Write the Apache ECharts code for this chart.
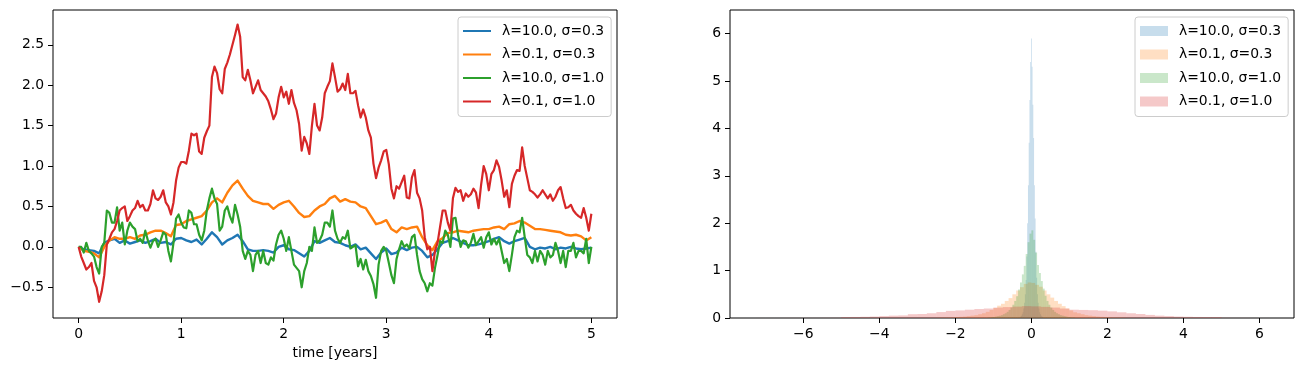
<!DOCTYPE html>
<html>
<head>
<meta charset="utf-8">
<script src="https://cdn.jsdelivr.net/npm/echarts@6/dist/echarts.min.js"></script>
<style>
html,body{margin:0;padding:0;background:#fff;}
#chart{width:1303px;height:371px;}
</style>
</head>
<body>
<div id="chart"></div>
<script>
// ---------- DATA ----------
const seriesNames = ['λ=10.0, σ=0.3', 'λ=0.1, σ=0.3', 'λ=10.0, σ=1.0', 'λ=0.1, σ=1.0'];

// time grid (years) for the two smooth paths
const timesCoarse = [0,0.05,0.1,0.15,0.2,0.25,0.3,0.35,0.4,0.45,0.5,0.55,0.6,0.65,0.7,0.75,0.8,0.85,0.9,0.95,
1,1.05,1.1,1.15,1.2,1.25,1.3,1.35,1.4,1.45,1.5,1.55,1.6,1.65,1.7,1.75,1.8,1.85,1.9,1.95,
2,2.05,2.1,2.15,2.2,2.25,2.3,2.35,2.4,2.45,2.5,2.55,2.6,2.65,2.7,2.75,2.8,2.85,2.9,2.95,
3,3.05,3.1,3.15,3.2,3.25,3.3,3.35,3.4,3.45,3.5,3.55,3.6,3.65,3.7,3.75,3.8,3.85,3.9,3.95,
4,4.05,4.1,4.15,4.2,4.25,4.3,4.35,4.4,4.45,4.5,4.55,4.6,4.65,4.7,4.75,4.8,4.85,4.9,4.95,5];

// time grid (years) for the two noisy paths
const timesFine = [0,0.025,0.05,0.075,0.1,0.125,0.15,0.175,0.2,0.225,
0.25,0.275,0.3,0.325,0.35,0.375,0.4,0.425,0.45,0.475,
0.5,0.525,0.55,0.575,0.6,0.625,0.65,0.675,0.7,0.725,
0.75,0.775,0.8,0.825,0.85,0.875,0.9,0.925,0.95,0.975,
1,1.025,1.05,1.075,1.1,1.125,1.15,1.175,1.2,1.225,
1.25,1.275,1.3,1.325,1.35,1.375,1.4,1.425,1.45,1.475,
1.5,1.525,1.55,1.575,1.6,1.625,1.65,1.675,1.7,1.725,
1.75,1.775,1.8,1.825,1.85,1.875,1.9,1.925,1.95,1.975,
2,2.025,2.05,2.075,2.1,2.125,2.15,2.175,2.2,2.225,
2.25,2.275,2.3,2.325,2.35,2.375,2.4,2.425,2.45,2.475,
2.5,2.525,2.55,2.575,2.6,2.625,2.65,2.675,2.7,2.725,
2.75,2.775,2.8,2.825,2.85,2.875,2.9,2.925,2.95,2.975,
3,3.025,3.05,3.075,3.1,3.125,3.15,3.175,3.2,3.225,
3.25,3.275,3.3,3.325,3.35,3.375,3.4,3.425,3.45,3.475,
3.5,3.525,3.55,3.575,3.6,3.625,3.65,3.675,3.7,3.725,
3.75,3.775,3.8,3.825,3.85,3.875,3.9,3.925,3.95,3.975,
4,4.025,4.05,4.075,4.1,4.125,4.15,4.175,4.2,4.225,
4.25,4.275,4.3,4.325,4.35,4.375,4.4,4.425,4.45,4.475,
4.5,4.525,4.55,4.575,4.6,4.625,4.65,4.675,4.7,4.725,
4.75,4.775,4.8,4.825,4.85,4.875,4.9,4.925,4.95,4.975,5];

const pathBlue = [0,-0.03,-0.04,-0.05,-0.08,0.05,0.08,0.1,0.05,0.08,0.04,0.06,0.08,0.05,0.07,0.1,0.05,0.06,0.03,0.1,
0.11,0.08,0.06,0.09,0.03,0.1,0.18,0.12,0.03,0.08,0.11,0.15,0.07,-0.03,-0.05,-0.05,-0.04,-0.05,-0.07,0,
0.02,-0.03,-0.04,-0.08,-0.12,-0.05,0.07,0.05,0.08,0.11,0.06,0.05,0.02,0,0.03,-0.03,-0.01,-0.08,-0.15,-0.07,
-0.02,-0.09,-0.07,-0.01,-0.04,-0.01,0,-0.05,-0.13,-0.1,-0.03,0.05,0.07,0.11,0.08,0.05,0.02,0.02,0.03,0.05,
0.07,0.1,0.12,0.07,0.04,0.07,0.09,0.11,0,-0.03,-0.01,-0.02,0,-0.03,-0.01,-0.02,0,-0.02,-0.03,-0.02,-0.01];

const pathOrange = [0,-0.05,-0.06,-0.08,-0.13,0,0.08,0.12,0.1,0.1,0.12,0.1,0.14,0.15,0.18,0.2,0.2,0.17,0.13,0.27,
0.28,0.32,0.34,0.36,0.38,0.45,0.55,0.6,0.55,0.67,0.76,0.82,0.72,0.63,0.57,0.55,0.53,0.53,0.47,0.52,
0.55,0.57,0.5,0.42,0.37,0.38,0.45,0.5,0.53,0.6,0.63,0.56,0.59,0.56,0.55,0.5,0.48,0.38,0.28,0.3,
0.33,0.22,0.18,0.24,0.22,0.24,0.25,0.12,0.02,-0.04,0.07,0.11,0.17,0.18,0.2,0.19,0.18,0.2,0.21,0.22,
0.22,0.24,0.25,0.22,0.28,0.29,0.32,0.3,0.26,0.22,0.22,0.21,0.2,0.19,0.18,0.15,0.14,0.15,0.13,0.08,0.12];

const pathGreen = [0,0,-0.07,0.05,-0.05,-0.08,-0.12,-0.25,-0.33,0,
0.05,0.45,0.42,0.3,0.3,0.49,0.2,0.3,0.03,0.2,
0.3,0.25,0.22,0.07,0.1,0.05,0.2,0.08,-0.01,0.07,
0.1,0,0.08,0.18,0.15,-0.05,-0.18,0.05,0.35,0.4,
0.3,0.24,0.23,0.45,0.42,0.28,0.28,0.15,0.08,0.2,
0.45,0.6,0.72,0.6,0.53,0.2,0.25,0.45,0.5,0.38,
0.3,0.52,0.4,0.25,-0.05,-0.15,-0.05,-0.1,-0.3,-0.1,
-0.05,-0.2,-0.05,-0.2,-0.22,-0.13,-0.17,0.03,0.15,0.2,
0.1,-0.05,0.12,-0.05,-0.22,-0.26,-0.3,-0.5,-0.3,-0.2,
0,-0.05,0.24,0.05,0.08,0.15,0.3,0.3,0.25,0.45,
0.2,0.1,0.05,0.12,0.1,0.2,-0.02,0,0.02,-0.24,
-0.15,-0.28,-0.16,-0.3,-0.36,-0.46,-0.63,-0.22,-0.05,0,
-0.05,-0.2,-0.35,-0.45,-0.15,-0.03,0.07,0,0.03,-0.02,
0.12,0.15,-0.1,-0.3,-0.4,-0.45,-0.55,-0.45,-0.48,-0.26,
-0.1,0.07,0.05,0.2,0.15,0,0.35,0.36,0.15,0,
0.08,0.07,-0.01,0.05,0.16,0.02,0.07,0.12,-0.01,0.12,
0.18,0.03,0.1,0.03,0.1,-0.05,-0.2,-0.15,-0.3,-0.1,
0.12,0.2,0.18,0.36,0.12,-0.1,-0.13,-0.2,-0.05,-0.18,
-0.05,-0.1,-0.22,-0.05,-0.13,-0.1,0.05,-0.05,-0.2,-0.05,
-0.25,-0.05,-0.05,0.05,-0.13,-0.05,-0.05,-0.08,0.1,-0.2,0];

const pathRed = [0,-0.12,-0.2,-0.28,-0.25,-0.2,-0.42,-0.5,-0.68,-0.55,
-0.35,0.03,0.1,0.18,0.22,0.32,0.45,0.48,0.5,0.32,
0.38,0.45,0.48,0.57,0.49,0.52,0.45,0.45,0.53,0.7,
0.6,0.58,0.62,0.7,0.55,0.5,0.4,0.55,0.82,0.98,
1.05,1.05,1.03,1.19,1.4,1.38,1.4,1.18,1.15,1.35,
1.43,1.5,2.1,2.23,2.15,1.95,1.9,2.2,2.28,2.38,
2.5,2.62,2.75,2.6,2.1,2.06,2.19,2.06,1.9,1.98,
2.06,1.94,1.9,1.86,1.8,1.7,1.58,1.65,1.85,1.98,
1.85,1.92,1.77,1.94,1.78,1.69,1.52,1.19,1.36,1.28,
1.15,1.5,1.77,1.5,1.44,1.6,1.9,1.98,2.05,2.27,
2.1,1.92,1.95,2.02,1.94,2.14,1.9,1.9,1.93,1.75,
1.6,1.7,1.6,1.44,1.35,1.03,0.85,0.98,1.07,1.18,
1.2,1.02,0.72,0.6,0.75,0.72,0.8,0.88,0.61,0.6,
0.86,0.95,0.67,0.6,0.45,0.12,-0.03,0,-0.3,-0.05,
0.05,0.25,0.45,0.45,0.3,0.2,0.6,0.73,0.68,0.7,
0.57,0.66,0.62,0.65,0.72,0.67,0.48,0.77,1.0,0.9,
0.7,0.9,0.95,1.07,0.99,0.82,0.62,0.7,0.49,0.78,
0.88,0.95,0.94,1.23,1.0,0.85,0.7,0.68,0.65,0.61,
0.65,0.7,0.65,0.6,0.65,0.57,0.62,0.7,0.74,0.6,
0.48,0.49,0.52,0.45,0.41,0.38,0.36,0.48,0.36,0.2,0.41];

// histograms: first bin edge, bin width, densities
const histBlueStart = -0.31, histBlueWidth = 0.02;
const histBlue = [0.02,0.03,0.05,0.08,0.12,0.2,0.32,0.5,0.8,1.3,2.0,2.8,3.7,4.6,5.4,5.9,5.3,4.5,3.8,2.8,2.1,1.4,0.85,0.5,0.32,0.2,0.12,0.08,0.05,0.03,0.02];

const histOrangeStart = -2.5, histOrangeWidth = 0.1;
const histOrange = [0.005,0.008,0.01,0.012,0.015,0.02,0.025,0.03,0.04,0.05,0.06,0.08,0.1,0.13,0.17,0.21,0.26,0.3,0.36,0.42,0.5,0.58,0.65,0.72,0.75,
0.74,0.7,0.66,0.58,0.5,0.43,0.36,0.3,0.25,0.2,0.16,0.12,0.1,0.08,0.06,0.05,0.04,0.03,0.025,0.02,0.015,0.012,0.01,0.008,0.005];

const histGreenStart = -1.2, histGreenWidth = 0.05;
const histGreen = [0,0.01,0.01,0.02,0.02,0.03,0.04,0.05,0.06,0.08,0.1,0.13,0.17,0.22,0.28,0.36,0.46,0.6,0.75,0.92,1.1,1.35,1.6,1.78,
1.85,1.65,1.38,1.12,0.95,0.78,0.62,0.47,0.36,0.28,0.22,0.17,0.13,0.1,0.08,0.06,0.05,0.04,0.03,0.02,0.02,0.01,0.01,0];

const histRedStart = -7.25, histRedWidth = 0.25;
const histRed = [0.001,0.001,0.001,0.002,0.002,0.003,0.003,0.004,0.005,0.02,0.022,0.025,0.03,0.04,0.05,0.055,0.08,0.085,0.1,0.125,0.15,0.16,0.175,0.19,0.2,0.22,0.23,0.24,0.25,
0.245,0.235,0.22,0.2,0.175,0.17,0.165,0.155,0.14,0.12,0.1,0.085,0.065,0.05,0.04,0.03,0.025,0.022,0.02,0.02,0.005,0.003,0.002,0.001,0.001];

// tick values
const leftXTicks = [0,1,2,3,4,5];
const leftYTicks = [-0.5,0,0.5,1,1.5,2,2.5];
const rightXTicks = [-6,-4,-2,0,2,4,6];
const rightYTicks = [0,1,2,3,4,5,6];
const xLabel = 'time [years]';

// ---------- STYLE ----------
const colors = ['#1f77b4','#ff7f0e','#2ca02c','#d62728'];
const lineWidths = [2.4,2.4,2.2,2.2];
const histColors = ['rgba(31,119,180,0.25)','rgba(255,127,14,0.25)','rgba(44,160,44,0.25)','rgba(214,39,40,0.25)'];
const FONT = "'DejaVu Sans', sans-serif";
const FS = 13.9;
const ZW = '\u200b';
// legend handle: 2px line centred in a 28x14 box (move-to points fix the box)
const LINE_ICON = 'path://M0,0 M0,6 L28,6 L28,8 L0,8 Z M28,14';

function minus(s){ return String(s).replace('-', '\u2212'); }

function makeAxis(gridIndex, min, max, ticks, fmt, extra){
  return Object.assign({
    gridIndex, type:'value', min, max,
    splitLine:{show:false},
    axisLine:{show:false, onZero:false},
    axisTick:{show:true, inside:false, length:5, customValues:ticks, lineStyle:{color:'#000', width:1}},
    axisLabel:{show:true, customValues:ticks, formatter:fmt, margin:9, fontFamily:FONT, fontSize:FS, color:'#000',
               showMinLabel:true, showMaxLabel:true, hideOverlap:false}
  }, extra || {});
}

function histData(start, width, dens){
  return dens.map((d,i)=>[start + i*width, start + (i+1)*width, d]);
}

function renderBin(params, api){
  const a = api.coord([api.value(0), api.value(2)]);
  const b = api.coord([api.value(1), 0]);
  return {type:'rect', shape:{x:a[0], y:a[1], width:b[0]-a[0], height:b[1]-a[1]},
          style:{fill: api.visual('color')}};
}

const chart = echarts.init(document.getElementById('chart'), null, {renderer:'canvas'});

const hists = [
  histData(histBlueStart, histBlueWidth, histBlue),
  histData(histOrangeStart, histOrangeWidth, histOrange),
  histData(histGreenStart, histGreenWidth, histGreen),
  histData(histRedStart, histRedWidth, histRed)
];
const paths = [
  timesCoarse.map((t,i)=>[t, pathBlue[i]]),
  timesCoarse.map((t,i)=>[t, pathOrange[i]]),
  timesFine.map((t,i)=>[t, pathGreen[i]]),
  timesFine.map((t,i)=>[t, pathRed[i]])
];

const series = [];
paths.forEach((d,i)=>{
  series.push({type:'line', name:seriesNames[i], xAxisIndex:0, yAxisIndex:0, data:d,
    showSymbol:false, symbol:'none', smooth:false, clip:true,
    lineStyle:{color:colors[i], width:lineWidths[i], join:'round'}, itemStyle:{color:colors[i]}, z:2+i});
});
hists.forEach((d,i)=>{
  series.push({type:'custom', name:seriesNames[i]+ZW, xAxisIndex:1, yAxisIndex:1, data:d,
    renderItem:renderBin, encode:{x:[0,1], y:2}, clip:true,
    itemStyle:{color:histColors[i]}, z:2+i});
});

const legendCommon = {
  orient:'vertical', top:17, itemGap:9.5, itemWidth:28,
  padding:[7,7,8,5], backgroundColor:'rgba(255,255,255,0.8)', borderColor:'#cccccc', borderWidth:1, borderRadius:3,
  textStyle:{fontFamily:FONT, fontSize:FS, color:'#000', padding:[0,0,0,6]},
  selectedMode:false, formatter:(n)=>n.replace(ZW,'')
};

chart.setOption({
  animation:false,
  backgroundColor:'#fff',
  grid:[
    {left:53, top:10, width:564, height:308, show:true, borderColor:'#000', borderWidth:1, containLabel:false, outerBoundsMode:'none'},
    {left:730, top:10, width:564, height:308, show:true, borderColor:'#000', borderWidth:1, containLabel:false, outerBoundsMode:'none'}
  ],
  xAxis:[
    makeAxis(0, -0.25, 5.25, leftXTicks, v=>minus(Math.round(v)), {
      name:xLabel, nameLocation:'middle', nameGap:27,
      nameTextStyle:{fontFamily:FONT, fontSize:FS, color:'#000'}
    }),
    makeAxis(1, -7.93, 6.91, rightXTicks, v=>minus(Math.round(v)))
  ],
  yAxis:[
    makeAxis(0, -0.88, 2.93, leftYTicks, v=>minus(v.toFixed(1))),
    makeAxis(1, 0, 6.5, rightYTicks, v=>minus(Math.round(v)))
  ],
  legend:[
    Object.assign({}, legendCommon, {left:458, itemHeight:14,
      data:seriesNames.map((n,i)=>({name:n, icon:LINE_ICON, itemStyle:{color:colors[i]}}))}),
    Object.assign({}, legendCommon, {left:1135, itemHeight:10, icon:'rect',
      data:seriesNames.map(n=>({name:n+ZW}))})
  ],
  series
});
</script>
</body>
</html>
